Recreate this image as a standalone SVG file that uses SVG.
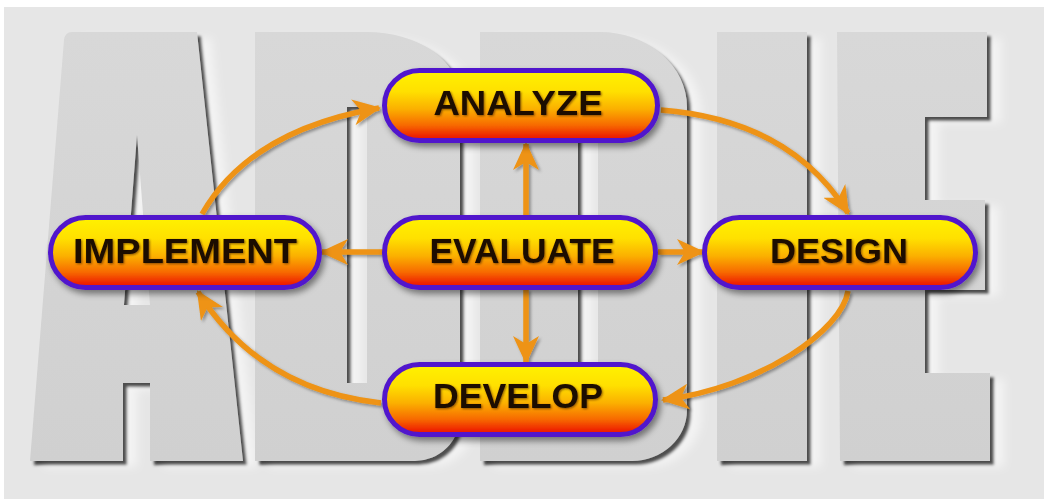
<svg xmlns="http://www.w3.org/2000/svg" width="1044" height="499" viewBox="0 0 1044 499">
  <defs>
    <linearGradient id="pill" x1="0" y1="0" x2="0" y2="1">
      <stop offset="0" stop-color="#fff200"/>
      <stop offset="0.3" stop-color="#ffe000"/>
      <stop offset="0.55" stop-color="#fbb000"/>
      <stop offset="0.78" stop-color="#f76a06"/>
      <stop offset="0.95" stop-color="#ee1e00"/>
      <stop offset="1" stop-color="#e81400"/>
    </linearGradient>
    <linearGradient id="letter" x1="0" y1="0" x2="0" y2="1">
      <stop offset="0" stop-color="#d8d8d8"/>
      <stop offset="1" stop-color="#d0d0d0"/>
    </linearGradient>
    <filter id="lshadow" x="-10%" y="-10%" width="130%" height="130%">
      <feGaussianBlur in="SourceAlpha" stdDeviation="5" result="b1"/>
      <feOffset in="b1" dx="14" dy="6" result="o1"/>
      <feFlood flood-color="#ffffff" flood-opacity="0.55"/>
      <feComposite in2="o1" operator="in" result="glow"/>
      <feGaussianBlur in="SourceAlpha" stdDeviation="1.8" result="b2"/>
      <feOffset in="b2" dx="4" dy="4" result="o2"/>
      <feFlood flood-color="#3a3a3a" flood-opacity="0.95"/>
      <feComposite in2="o2" operator="in" result="dark"/>
      <feMerge>
        <feMergeNode in="glow"/>
        <feMergeNode in="dark"/>
        <feMergeNode in="SourceGraphic"/>
      </feMerge>
    </filter>
    <filter id="nshadow" x="-10%" y="-20%" width="125%" height="150%">
      <feDropShadow dx="3" dy="4" stdDeviation="3" flood-color="#000" flood-opacity="0.45"/>
    </filter>
    <filter id="ashadow" x="-20%" y="-20%" width="140%" height="140%">
      <feDropShadow dx="2" dy="2" stdDeviation="1.5" flood-color="#000" flood-opacity="0.35"/>
    </filter>
    <filter id="tshadow" x="-5%" y="-20%" width="110%" height="140%">
      <feDropShadow dx="1" dy="1" stdDeviation="0.8" flood-color="#5a2a00" flood-opacity="0.7"/>
    </filter>
    <marker id="ah" viewBox="0 0 28 26" refX="26" refY="13" markerWidth="28" markerHeight="26" markerUnits="userSpaceOnUse" orient="auto">
      <path d="M0,0 L28,13 L0,26 L8,13 Z" fill="#ee9314"/>
    </marker>
    <style>
      .node rect { fill: url(#pill); stroke: #5118cc; stroke-width: 5; }
      .node text { font-family: "Liberation Sans", Arial, sans-serif; font-weight: bold; font-size: 35px; fill: #1c1005; text-anchor: middle; }
      .conn path { fill: none; stroke: #ee9314; stroke-width: 5.5; marker-end: url(#ah); }
      .ltr { fill: url(#letter); fill-rule: evenodd; }
    </style>
  </defs>

  <rect x="0" y="0" width="1044" height="499" fill="#ffffff"/>
  <rect x="4" y="7" width="1040" height="492" fill="#e6e6e6"/>

  <g id="letters" filter="url(#lshadow)">
    <path class="ltr" d="M72,32 H197 L243,461 H150 V383 H123 V461 H30 L64,40 Q65,32 72,32 Z M137,135 L150,305 H124 Z"/>
    <path class="ltr" d="M255,32 H367 A93,65 0 0 1 460,97 V416 A45,45 0 0 1 415,461 H255 Z M347,107 V383 H367 V107 Z"/>
    <path class="ltr" d="M480,32 H600 A87,75 0 0 1 687,107 V410 A55,51 0 0 1 632,461 H480 Z M578,107 V383 H598 V107 Z"/>
    <rect class="ltr" x="717" y="32" width="90" height="429"/>
    <path class="ltr" d="M837,32 H987 V117 H925 V200 H985 V290 H925 V373 H990 V461 H840 Z"/>
  </g>

  <g id="connectors" class="conn" filter="url(#ashadow)">
    <path d="M202,214 Q250,130 379,108"/>
    <path d="M661,110 Q790,120 848,213"/>
    <path d="M848,291 C842,330 762,387 663,400"/>
    <path d="M381,403 Q260,390 198,292"/>
    <path d="M526,216 V144"/>
    <path d="M526,289 V362"/>
    <path d="M383,252 H322"/>
    <path d="M658,252 H703"/>
  </g>

  <g id="analyze" class="node" filter="url(#nshadow)">
    <rect x="384.5" y="70.5" width="273" height="70" rx="35"/>
    <text x="518" y="115" textLength="169" lengthAdjust="spacingAndGlyphs" filter="url(#tshadow)">ANALYZE</text>
  </g>
  <g id="implement" class="node" filter="url(#nshadow)">
    <rect x="50.5" y="217.5" width="269" height="70" rx="35"/>
    <text x="185" y="263" textLength="224" lengthAdjust="spacingAndGlyphs" filter="url(#tshadow)">IMPLEMENT</text>
  </g>
  <g id="evaluate" class="node" filter="url(#nshadow)">
    <rect x="384.5" y="217.5" width="271" height="70" rx="35"/>
    <text x="522" y="263" textLength="185" lengthAdjust="spacingAndGlyphs" filter="url(#tshadow)">EVALUATE</text>
  </g>
  <g id="design" class="node" filter="url(#nshadow)">
    <rect x="704.5" y="217.5" width="271" height="70" rx="35"/>
    <text x="839" y="263" textLength="138" lengthAdjust="spacingAndGlyphs" filter="url(#tshadow)">DESIGN</text>
  </g>
  <g id="develop" class="node" filter="url(#nshadow)">
    <rect x="384.5" y="364.5" width="271" height="70" rx="35"/>
    <text x="518" y="408" textLength="170" lengthAdjust="spacingAndGlyphs" filter="url(#tshadow)">DEVELOP</text>
  </g>
</svg>
